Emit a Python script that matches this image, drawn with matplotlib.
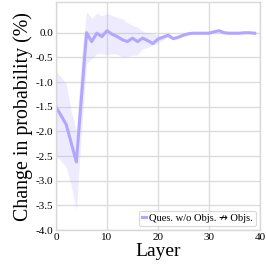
import matplotlib
matplotlib.use("Agg")
import matplotlib.pyplot as plt
import numpy as np

layers = list(range(40))
mean = [-1.51, -1.68, -1.86, -2.24, -2.62, -1.30, 0.00, -0.18, -0.01, -0.08,
        0.04, -0.03, -0.08, -0.14, -0.18, -0.11, -0.18, -0.11, -0.16, -0.22,
        -0.13, -0.09, -0.05, -0.12, -0.09, -0.05, -0.02, -0.01, -0.01, -0.01,
        -0.01, 0.02, 0.04, 0.00, -0.01, -0.01, -0.01, 0.00, 0.00, -0.01]
upper = [-0.79, -0.90, -1.03, -1.60, -2.00, -0.50, 0.43, 0.29, 0.40, 0.34,
         0.39, 0.35, 0.31, 0.28, 0.21, 0.15, 0.11, 0.03, 0.00, -0.02,
         -0.05, -0.06, -0.02, -0.09, -0.06, -0.03, 0.00, 0.01, 0.01, 0.01,
         0.01, 0.04, 0.06, 0.02, 0.01, 0.01, 0.01, 0.02, 0.02, 0.01]
lower = [-2.48, -2.60, -2.72, -3.10, -3.60, -2.00, -0.62, -0.52, -0.43, -0.42,
         -0.45, -0.42, -0.44, -0.49, -0.48, -0.46, -0.45, -0.32, -0.30, -0.25,
         -0.22, -0.14, -0.09, -0.15, -0.12, -0.07, -0.04, -0.03, -0.03, -0.03,
         -0.03, 0.00, 0.02, -0.02, -0.03, -0.03, -0.03, -0.02, -0.02, -0.03]
label = "Ques. w/o Objs. \u219b Objs."
xticks = [0, 10, 20, 30, 40]
yticks = [-4.0, -3.5, -3.0, -2.5, -2.0, -1.5, -1.0, -0.5, 0.0]

plt.rcParams['font.family'] = ['Liberation Serif', 'DejaVu Sans']
color = '#b2a6ff'

fig = plt.figure(figsize=(2.66, 2.66), dpi=100)
ax = fig.add_axes([0.2105, 0.1353, 0.7665, 0.8567])
ax.fill_between(layers, lower, upper, color=color, alpha=0.22, linewidth=0)
ax.plot(layers, mean, color=color, lw=2.2, label=label)
ax.set_xlim(0, 40)
ax.set_ylim(-4.0, 0.62)
ax.set_xticks(xticks)
ax.set_yticks(yticks)
ax.set_yticklabels([f"{v:.1f}" for v in yticks])
ax.tick_params(axis='both', length=0, labelsize=8, pad=2)
ax.grid(True, color='#dcdcdc', lw=1.0)
ax.set_axisbelow(True)
for s in ax.spines.values():
    s.set_color('#d8d8d8')
    s.set_linewidth(1.0)
ax.set_xlabel("Layer", fontsize=14, labelpad=1)
ax.set_ylabel("Change in probability (%)", fontsize=14.3, labelpad=2)
leg = ax.legend(loc='lower right', fontsize=7.6, handlelength=0.4, handletextpad=0.3,
                borderpad=0.3, borderaxespad=0.35, frameon=True, fancybox=True)
leg.get_frame().set_edgecolor('#d0d0d0')
leg.get_frame().set_linewidth(0.8)
fig.savefig("out.png", dpi=100)
